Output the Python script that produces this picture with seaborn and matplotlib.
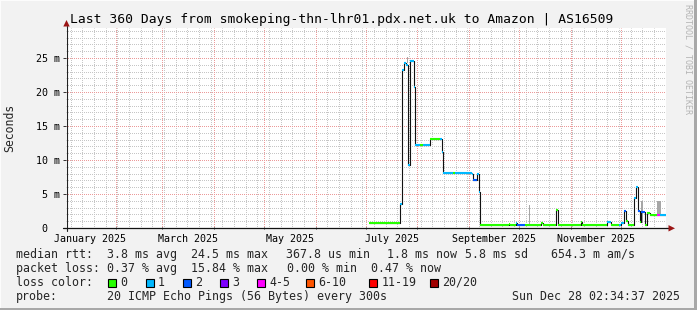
import numpy as np
import pandas as pd
import matplotlib
matplotlib.use("Agg")
import matplotlib.pyplot as plt
import seaborn as sns
from matplotlib.patches import Rectangle, Polygon
from matplotlib.lines import Line2D

# ---------------- data ----------------
# median RTT as steps: start day (days since 2025-01-01), value in ms, loss bucket index
seg_start_day = [182.9, 201.5, 202.7, 204.1, 205.1, 206.5, 207.3, 210.1, 210.7, 213.5,
                 215.1, 219.5, 225.8, 226.9, 227.5, 233.3, 234.5, 244.5, 245.6, 247.5,
                 248.9, 249.5, 266.9, 267.8, 270.9, 271.9, 276.5, 286.1, 287.5, 295.1,
                 296.6, 310.0, 310.7, 325.9, 327.9, 332.7, 333.9, 335.9, 337.0, 338.5,
                 342.1, 343.0, 344.2, 345.5, 346.1, 348.5, 349.9, 351.5, 355.9, 357.5]
seg_median_ms = [0.7, 3.6, 23.3, 24.3, 24.0, 9.3, 24.5, 20.8, 12.2, 12.2,
                 12.2, 13.1, 13.1, 11.2, 8.1, 8.1, 8.1, 7.9, 7.0, 8.0,
                 5.3, 0.5, 0.66, 0.5, 0.76, 0.45, 0.45, 0.76, 0.5, 2.65,
                 0.5, 0.95, 0.5, 0.9, 0.5, 0.45, 0.7, 2.5, 1.07, 0.5,
                 4.4, 6.1, 2.5, 0.9, 2.3, 0.5, 2.2, 1.87, 1.87, 1.87]
seg_loss = [0, 1, 1, 1, 1, 1, 1, 1, 1, 0,
            1, 0, 1, 1, 1, 0, 1, 1, 2, 1,
            1, 0, 0, 0, 1, 2, 0, 0, 0, 0,
            0, 0, 0, 1, 0, 1, 1, 2, 0, 0,
            1, 1, 2, 0, 2, 0, 0, 0, 4, 1]
series_end_day = 360.9

# smoke (spread of RTT samples)
smoke_start_day = [205.6, 279.2, 346.0, 355.9]
smoke_end_day = [206.4, 279.8, 347.6, 357.9]
smoke_low_ms = [24.2, 0.45, 0.7, 1.9]
smoke_high_ms = [25.2, 3.4, 3.9, 4.0]

loss_labels = ["0", "1", "2", "3", "4-5", "6-10", "11-19", "20/20"]
loss_colors = ["#26ff00", "#00b8ff", "#0059ff", "#7e00ff", "#ff00ff", "#ff5500", "#ff0000", "#a10000"]

month_start_days = [31, 59, 90, 120, 151, 181, 212, 243, 273, 304, 334]
month_label_days = [15.5, 74.5, 135.5, 196.5, 258, 319]
month_labels = ["January 2025", "March 2025", "May 2025", "July 2025", "September 2025", "November 2025"]
week_start_day = 4
ytick_ms = [0, 5, 10, 15, 20, 25]
ytick_labels = ["0  ", "5 m", "10 m", "15 m", "20 m", "25 m"]

title = "Last 360 Days from smokeping-thn-lhr01.pdx.net.uk to Amazon | AS16509"
ylabel = "Seconds"
rtt_items = ["median rtt:", "3.8 ms avg", "24.5 ms max", "367.8 us min", "1.8 ms now", "5.8 ms sd", "654.3 m am/s"]
loss_items = ["packet loss:", "0.37 % avg", "15.84 % max", "0.00 % min", "0.47 % now"]
legend_color = "loss color:"
probe_items = ["probe:", "20 ICMP Echo Pings (56 Bytes) every 300s"]
timestamp = "Sun Dec 28 02:34:37 2025"
watermark = "RRDTOOL / TOBI OETIKER"

x_start_day, x_end_day = 1.107, 361.107
y_top_ms = 200 / 6.8

# ---------------- layout (pixels) ----------------
rtt_x = [16, 107.3, 191, 286, 386.7, 465, 551]
loss_x = [16, 107.3, 191, 286.7, 371]
probe_x = [16, 107.3]
box_x = [108, 145.5, 182.5, 220, 256.5, 306, 369, 430]

# ---------------- figure ----------------
sns.set_theme(style="white")
MONO = "DejaVu Sans Mono"
plt.rcParams["font.family"] = [MONO]

W, H = 697, 310
fig = plt.figure(figsize=(W / 100, H / 100), dpi=100)
fig.patch.set_facecolor("#f2f2f2")

def fx(px):
    return px / W

def fy(py):
    return 1 - py / H

# 3D border
fig.add_artist(Rectangle((fx(W - 3), 0), fx(3), 1, transform=fig.transFigure, color="#a8a8a8", lw=0))
fig.add_artist(Rectangle((0, 0), 1, 2 / H, transform=fig.transFigure, color="#a8a8a8", lw=0))
fig.add_artist(Rectangle((0, 1 - 1 / H), 1 - 3 / W, 1 / H, transform=fig.transFigure, color="#fcfcfc", lw=0))
fig.add_artist(Rectangle((0, 2 / H), 1 / W, 1, transform=fig.transFigure, color="#fcfcfc", lw=0))

AX_L, AX_T, AX_W, AX_H = 66, 28, 600, 200
ax = fig.add_axes([fx(AX_L), fy(AX_T + AX_H), fx(AX_W), AX_H / H])
ax.set_facecolor("white")
ax.set_xlim(x_start_day, x_end_day)
ax.set_ylim(0, y_top_ms)
for s in ax.spines.values():
    s.set_visible(False)

# grid (dotted, 1px on / 1px off, pattern aligned to pixels)
grid_kw = dict(lw=0.72, linestyle=(0.5, (1, 1)), zorder=0.5)
week_days = np.arange(week_start_day, x_end_day, 7)
for d in week_days:
    ax.axvline(d, color="#c6c6c6", **grid_kw)
for v in range(1, int(y_top_ms) + 1):
    if v % 5:
        ax.axhline(v, color="#c6c6c6", **grid_kw)
for d in month_start_days:
    ax.axvline(d, color="#ec9a9a", **grid_kw)
for v in ytick_ms[1:]:
    ax.axhline(v, color="#ec9a9a", **grid_kw)

# smoke
for s, e, lo, hi in zip(smoke_start_day, smoke_end_day, smoke_low_ms, smoke_high_ms):
    ax.fill_between([s, e], [lo, lo], [hi, hi], color="#a6a6a6", lw=0, zorder=1)

# median line (black steps)
df = pd.DataFrame({"day": seg_start_day + [series_end_day],
                   "ms": seg_median_ms + [seg_median_ms[-1]]})
sns.lineplot(data=df, x="day", y="ms", drawstyle="steps-post", color="#111111",
             lw=0.8, ax=ax, estimator=None, sort=False, zorder=2)

# loss-coloured median segments
seg_end_day = seg_start_day[1:] + [series_end_day]
seg = pd.DataFrame({"s": seg_start_day, "e": seg_end_day, "v": seg_median_ms, "k": seg_loss})
for k, grp in seg.groupby("k"):
    ax.hlines(grp["v"], grp["s"], grp["e"], colors=loss_colors[k], lw=1.5, zorder=3)

# ticks
ax.set_yticks(ytick_ms)
ax.set_yticklabels(ytick_labels)
ax.set_xticks(month_label_days)
ax.set_xticklabels(month_labels)
ax.set_xticks(month_start_days, minor=True)
ax.tick_params(axis="y", which="major", length=2, width=0.7, color="#333333", direction="out",
               pad=2.6, labelsize=7.2, labelcolor="black", left=True)
ax.tick_params(axis="x", which="major", length=0, pad=4.0, labelsize=7.2, labelcolor="black", bottom=True)
ax.tick_params(axis="x", which="minor", length=2, width=0.7, color="#333333", direction="inout", bottom=True)
for t in ax.get_yticklabels() + ax.get_xticklabels():
    t.set_family(MONO)
ax.set_xlabel("")
ax.set_ylabel("")

# axes lines and arrows
def pline(x0, y0, x1, y1, **kw):
    fig.add_artist(Line2D([fx(x0), fx(x1)], [fy(y0), fy(y1)], transform=fig.transFigure, **kw))

pline(66.5, 231, 66.5, 26, color="#222222", lw=0.8, zorder=5)
pline(63, 228.3, 669, 228.3, color="#111111", lw=0.9, zorder=5)
arrow_c = "#9b1515"
fig.add_artist(Polygon([(fx(66.5), fy(20)), (fx(63.3), fy(26.5)), (fx(69.7), fy(26.5))],
                       closed=True, transform=fig.transFigure, color=arrow_c, lw=0, zorder=6))
fig.add_artist(Polygon([(fx(675), fy(228.3)), (fx(668.5), fy(225.1)), (fx(668.5), fy(231.5))],
                       closed=True, transform=fig.transFigure, color=arrow_c, lw=0, zorder=6))

# texts
fig.text(fx(341.5), fy(19), title, ha="center", va="center", fontsize=9.35, family=MONO, color="black")
fig.text(fx(10), fy(128), ylabel, ha="center", va="center", rotation=90, fontsize=8.3, family=MONO)
fig.text(fx(688), fy(4), watermark, ha="center", va="top", rotation=-90, fontsize=6.0,
         family=MONO, color="#b4b4b4")

LEG_FS = 8.4

def legend_row(items, xs, y):
    for txt, x in zip(items, xs):
        fig.text(fx(x), fy(y), txt, ha="left", va="center", fontsize=LEG_FS, family=MONO)

legend_row(rtt_items, rtt_x, 254.3)
legend_row(loss_items, loss_x, 268.3)
legend_row([legend_color], [16], 282.3)
legend_row(probe_items, probe_x, 296.3)
fig.text(fx(680), fy(296.3), timestamp, ha="right", va="center", fontsize=LEG_FS, family=MONO)

for lab, col, bx in zip(loss_labels, loss_colors, box_x):
    fig.add_artist(Rectangle((fx(bx), fy(286.5)), 8 / W, 8 / H, transform=fig.transFigure,
                             facecolor=col, edgecolor="black", lw=0.8))
    fig.text(fx(bx + 12.5), fy(282.3), lab, ha="left", va="center", fontsize=LEG_FS, family=MONO)

fig.savefig("out.png", dpi=100, facecolor=fig.get_facecolor())
